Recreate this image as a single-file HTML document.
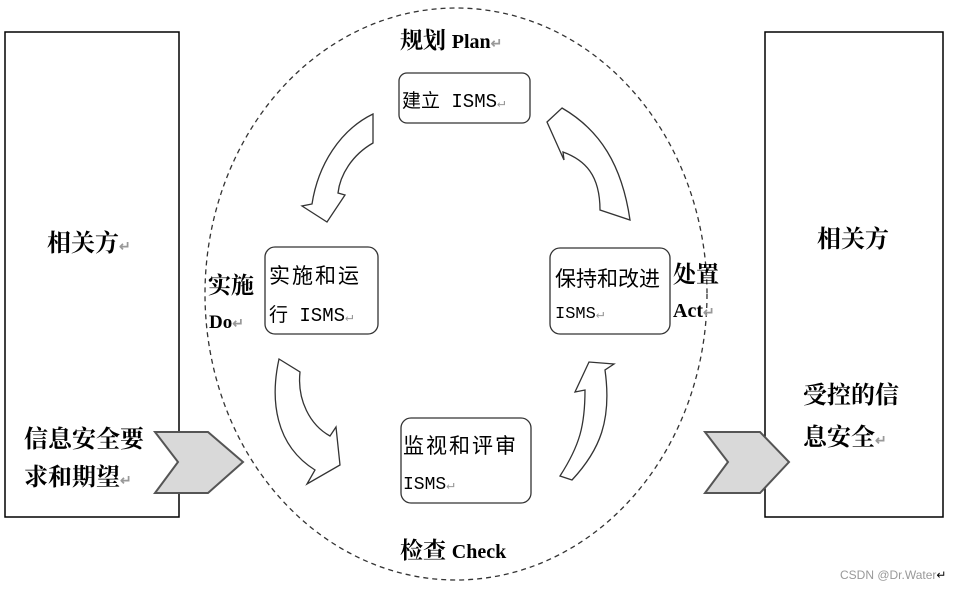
<!DOCTYPE html>
<html><head><meta charset="utf-8"><style>
body{margin:0;width:959px;height:590px;background:#fff;overflow:hidden;position:relative;font-family:"Liberation Serif","Noto Serif CJK SC",serif;}
.t{position:absolute;color:#000;white-space:nowrap;}
.b{font-weight:bold;font-size:23px;}
.s{font-family:"Liberation Mono","Noto Sans CJK SC",monospace;font-size:19px;}
.r{color:#999;font-size:14px;}
</style></head><body>
<svg width="959" height="590" style="position:absolute;left:0;top:0">
<rect x="5" y="32" width="174" height="485" fill="none" stroke="#000" stroke-width="1.5"/>
<rect x="765" y="32" width="178" height="485" fill="none" stroke="#000" stroke-width="1.5"/>
<ellipse cx="456" cy="294" rx="251" ry="286" fill="none" stroke="#333" stroke-width="1.3" stroke-dasharray="5,4"/>
<polygon points="155,432 208,432 243,462 208,493 155,493 178,462" fill="#d9d9d9" stroke="#555" stroke-width="2"/>
<polygon points="705,432 760,432 789,462 760,493 705,493 728,462" fill="#d9d9d9" stroke="#555" stroke-width="2"/>
<g fill="#fff" stroke="#333" stroke-width="1.3">
<rect x="399" y="73" width="131" height="50" rx="8"/>
<rect x="265" y="247" width="113" height="87" rx="10"/>
<rect x="550" y="248" width="120" height="86" rx="10"/>
<rect x="401" y="418" width="130" height="85" rx="10"/>
<path d="M373,114 L373,143 C352,155 340,175 338,193 L345,195 L327,222 L302,206 L312,204 C318,165 340,130 373,114 Z"/>
<path d="M547,122 L562,108 C600,130 622,165 630,220 L600,210 C600,175 585,160 563,152 L564,160 Z"/>
<path d="M279,359 L300,372 C297,400 310,425 330,436 L336,427 L340,465 L307,484 L315,470 C275,445 270,400 279,359 Z"/>
<path d="M560,476 C580,445 585,425 585,390 L575,392 L589,362 L614,364 L605,370 C612,420 600,450 572,480 Z"/>
</g>
</svg>
<div class="t b" style="left:400px;top:22px">规划 <span style="font-size:20px">Plan</span><span class="r">↵</span></div>
<div class="t s" style="left:402px;top:86px">建立 ISMS<span class="r">↵</span></div>
<div class="t s" style="left:269px;top:260px;font-size:21px;letter-spacing:2px">实施和运</div>
<div class="t s" style="left:269px;top:300px">行 ISMS<span class="r">↵</span></div>
<div class="t s" style="left:555px;top:263px;font-size:21px">保持和改进</div>
<div class="t s" style="left:555px;top:305px;font-size:17px">ISMS<span class="r">↵</span></div>
<div class="t s" style="left:403px;top:430px;font-size:21px;letter-spacing:2px">监视和评审</div>
<div class="t s" style="left:403px;top:475px;font-size:18px">ISMS<span class="r">↵</span></div>
<div class="t b" style="left:208px;top:267px">实施</div>
<div class="t b" style="left:209px;top:312px;font-size:19px">Do<span class="r">↵</span></div>
<div class="t b" style="left:673px;top:256px">处置</div>
<div class="t b" style="left:673px;top:300px;font-size:20px">Act<span class="r">↵</span></div>
<div class="t b" style="left:400px;top:532px">检查 <span style="font-size:20px">Check</span></div>
<div class="t b" style="left:47px;top:223px;font-size:24px">相关方<span class="r">↵</span></div>
<div class="t b" style="left:817px;top:219px;font-size:24px">相关方</div>
<div class="t b" style="left:24px;top:419px;font-size:24px">信息安全要</div>
<div class="t b" style="left:24px;top:457px;font-size:24px">求和期望<span class="r">↵</span></div>
<div class="t b" style="left:803px;top:375px;font-size:24px">受控的信</div>
<div class="t b" style="left:803px;top:417px;font-size:24px">息安全<span class="r">↵</span></div>
<div class="t" style="left:840px;top:568px;font-size:12px;color:#999;font-family:'Liberation Sans',sans-serif">CSDN @Dr.Water<span style="color:#000">↵</span></div>
</body></html>
